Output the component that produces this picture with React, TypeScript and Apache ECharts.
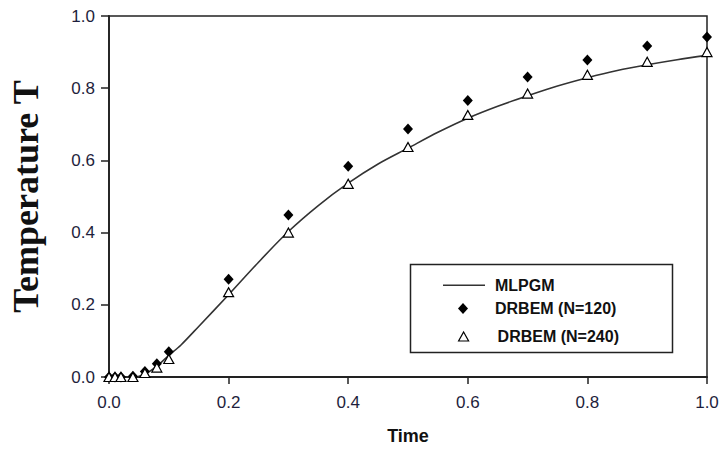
import React, { useEffect, useRef } from "react";
import * as echarts from "echarts";

const xTicks = [0, 0.2, 0.4, 0.6, 0.8, 1.0];

const lineTime = [0, 0.04, 0.06, 0.08, 0.1, 0.12, 0.15, 0.2, 0.25, 0.3, 0.35, 0.4, 0.45, 0.5, 0.55, 0.6, 0.65, 0.7, 0.75, 0.8, 0.85, 0.9, 0.95, 1.0];
const mlpgm = [0, 0, 0.008, 0.03, 0.06, 0.088, 0.14, 0.228, 0.318, 0.403, 0.475, 0.537, 0.59, 0.634, 0.678, 0.717, 0.75, 0.779, 0.806, 0.829, 0.849, 0.865, 0.879, 0.891];

const pointTime = [0, 0.01, 0.02, 0.04, 0.06, 0.08, 0.1, 0.2, 0.3, 0.4, 0.5, 0.6, 0.7, 0.8, 0.9, 1.0];
const drbem120 = [0, 0, 0, 0.002, 0.015, 0.037, 0.07, 0.271, 0.449, 0.584, 0.687, 0.766, 0.831, 0.878, 0.917, 0.942];
const drbem240 = [0, 0, 0, 0, 0.011, 0.026, 0.05, 0.235, 0.4, 0.535, 0.637, 0.726, 0.785, 0.837, 0.873, 0.9];

const seriesNames = ["MLPGM", "DRBEM (N=120)", "DRBEM (N=240)"];

export default function App() {
  const ref = useRef<HTMLDivElement>(null);
  useEffect(() => {
    document.body.style.margin = "0";
    if (!ref.current) return;
    const chart = echarts.init(ref.current, undefined, { renderer: "svg" });
    const axisColor = "#222";
    const legendText = (padLeft: number) => ({
      fontFamily: "Liberation Sans",
      fontWeight: "bold",
      fontSize: 16,
      color: "#111",
      padding: [0, 0, 0, padLeft],
    });
    chart.setOption({
      animation: false,
      backgroundColor: "#fff",
      grid: {
        left: 108,
        right: 18,
        top: 16,
        bottom: 75,
        show: true,
        borderColor: axisColor,
        borderWidth: 1.5,
      },
      xAxis: {
        type: "value",
        min: 0,
        max: 1,
        interval: 0.2,
        name: "Time",
        nameLocation: "middle",
        nameGap: 50,
        nameTextStyle: { fontFamily: "Liberation Sans", fontWeight: "bold", fontSize: 18, color: "#111" },
        axisLine: { lineStyle: { color: axisColor, width: 1.8 } },
        axisTick: { show: true, length: 7, lineStyle: { color: axisColor, width: 1.5 } },
        splitLine: { show: false },
        axisLabel: {
          margin: 17,
          fontFamily: "Liberation Sans",
          fontSize: 17,
          color: "#1e1e3c",
          formatter: (v: number) => v.toFixed(1),
        },
      },
      yAxis: {
        type: "value",
        min: 0,
        max: 1,
        interval: 0.2,
        name: "Temperature T",
        nameLocation: "middle",
        nameRotate: 90,
        nameGap: 65,
        nameTextStyle: { fontFamily: "Liberation Serif", fontWeight: "bold", fontSize: 36, color: "#111" },
        axisLine: { lineStyle: { color: axisColor, width: 1.8 } },
        axisTick: { show: true, length: 8, lineStyle: { color: axisColor, width: 1.5 } },
        splitLine: { show: false },
        axisLabel: {
          margin: 14,
          fontFamily: "Liberation Sans",
          fontSize: 17,
          color: "#1e1e3c",
          formatter: (v: number) => v.toFixed(1),
        },
      },
      legend: [
        {
          left: 443,
          top: 277.2,
          itemWidth: 42,
          itemHeight: 1.6,
          padding: 0,
          selectedMode: false,
          textStyle: legendText(5),
          data: [{ name: seriesNames[0], icon: "rect", itemStyle: { color: "#333" } }],
        },
        {
          left: 458,
          top: 300.5,
          itemWidth: 10,
          itemHeight: 11,
          padding: 0,
          selectedMode: false,
          textStyle: legendText(22),
          data: [{ name: seriesNames[1], icon: "diamond", itemStyle: { color: "#000" } }],
        },
        {
          left: 458,
          top: 328.5,
          itemWidth: 10,
          itemHeight: 9,
          padding: 0,
          selectedMode: false,
          textStyle: legendText(24),
          data: [{ name: seriesNames[2], icon: "triangle", itemStyle: { color: "#fff", borderColor: "#000", borderWidth: 1.2 } }],
        },
      ],
      graphic: [
        {
          type: "rect",
          left: 408,
          top: 262,
          shape: { width: 262, height: 88 },
          style: { fill: "none", stroke: "#222", lineWidth: 1.5 },
          z: 10,
        },
      ],
      series: [
        {
          name: seriesNames[0],
          type: "line",
          symbol: "none",
          smooth: 0.3,
          data: lineTime.map((t, i) => [t, mlpgm[i]]),
          lineStyle: { color: "#333", width: 1.6 },
          itemStyle: { color: "#333" },
          z: 2,
        },
        {
          name: seriesNames[1],
          type: "scatter",
          symbol: "diamond",
          symbolSize: [10, 11],
          data: pointTime.map((t, i) => [t, drbem120[i]]),
          itemStyle: { color: "#000", opacity: 1 },
          z: 3,
        },
        {
          name: seriesNames[2],
          type: "scatter",
          symbol: "triangle",
          symbolSize: [10, 9],
          data: pointTime.map((t, i) => [t, drbem240[i]]),
          itemStyle: { color: "#fff", borderColor: "#000", borderWidth: 1.2, opacity: 1 },
          z: 4,
        },
      ],
    });
    return () => chart.dispose();
  }, []);
  return <div ref={ref} style={{ width: 725, height: 452 }} />;
}
